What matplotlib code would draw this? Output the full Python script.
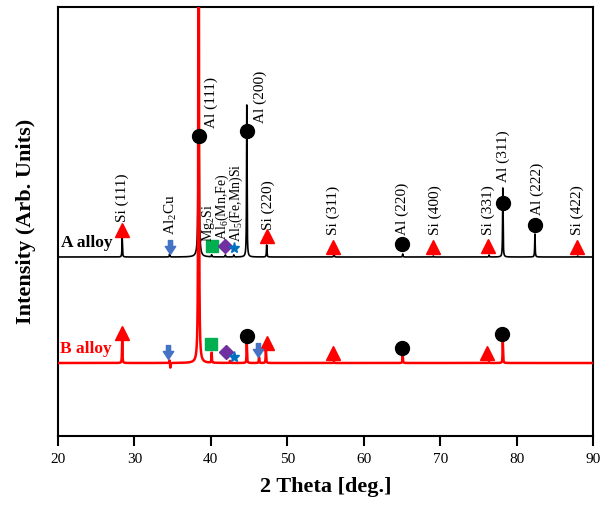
import numpy as np
import matplotlib
matplotlib.use("Agg")
from matplotlib import pyplot as plt
from matplotlib.path import Path

plt.rcParams['font.family'] = ['Liberation Serif', 'DejaVu Serif']
plt.rcParams['mathtext.fontset'] = 'custom'
plt.rcParams['mathtext.rm'] = 'Liberation Serif'

# peak positions (2 theta) and heights (arb.)
a_base = 179
a_pos = [28.4, 34.6, 38.4, 40.1, 41.9, 43.0, 44.7, 47.3, 56.1, 65.1, 69.1, 76.4, 78.2, 82.4, 88.0]
a_hgt = [19, 3, 600, 2, 2, 2, 152, 12, 4, 3, 1, 2, 69, 23, 1]

b_base = 73
b_pos = [28.4, 34.6, 34.7, 38.4, 40.1, 42.5, 44.7, 46.3, 47.2, 56.1, 65.1, 76.4, 78.2]
b_hgt = [23, 3, -5, 900, 10, 2, 20, 6, 13, 1, 8, 1, 21]

# phase markers: (x, y) per phase
a_si = [(28.4, 206), (47.4, 200), (56.0, 189), (69.1, 189), (76.3, 190), (87.9, 189)]
a_al = [(38.4, 300), (44.7, 305), (65.0, 192), (78.2, 233), (82.4, 211)]
a_cu = [(34.6, 189)]
a_mg = [(40.1, 190)]
a_mn = [(41.8, 190)]
a_fe = [(43.0, 188)]

b_si = [(28.4, 103), (47.3, 93), (56.0, 83), (76.1, 83)]
b_al = [(44.7, 100), (65.0, 88), (78.1, 102)]
b_cu = [(34.4, 84), (46.2, 86)]
b_mg = [(40.0, 92)]
b_mn = [(42.0, 84)]
b_fe = [(43.0, 79)]

# peak labels: text, x, bottom y, font size
labels = [("Si (111)", 28.4, 214, 11), ("Al$_2$Cu", 34.8, 201, 11), ("Al (111)", 40.1, 308, 11),
          ("Mg$_2$Si", 39.65, 194, 10), ("Al$_6$(Mn,Fe)", 41.5, 196, 10),
          ("Al$_5$(Fe,Mn)Si", 43.35, 194, 10),
          ("Al (200)", 46.4, 313, 11), ("Si (220)", 47.5, 206, 11), ("Si (311)", 56.0, 201, 11),
          ("Al (220)", 65.0, 201, 11), ("Si (400)", 69.3, 201, 11), ("Si (331)", 76.3, 201, 11),
          ("Al (311)", 78.3, 254, 11), ("Al (222)", 82.7, 221, 11), ("Si (422)", 87.9, 201, 11)]


def profile(x, pos, hgt, base, w=0.035):
    y = np.full_like(x, base, dtype=float)
    for p, h in zip(pos, hgt):
        y += h / (1 + ((x - p) / w) ** 2)
    return y


arrow = Path([(-0.3, 1), (0.3, 1), (0.3, 0.15), (0.75, 0.15), (0, -1), (-0.75, 0.15), (-0.3, 0.15), (-0.3, 1)],
             [Path.MOVETO] + [Path.LINETO] * 6 + [Path.CLOSEPOLY])

fig = plt.figure(figsize=(6.09, 5.07), dpi=100)
ax = fig.add_axes([58 / 609, 71 / 507, 535 / 609, 429 / 507])

tt = np.linspace(20, 90, 14001)
ax.plot(tt, profile(tt, a_pos, a_hgt, a_base), color='black', lw=1.2, zorder=2)
ax.plot(tt, profile(tt, b_pos, b_hgt, b_base), color='red', lw=1.8, zorder=3)


def marks(pts, **kw):
    xs, ys = zip(*pts)
    ax.plot(xs, ys, ls='none', zorder=5, **kw)


for si, al, cu, mg, mn, fe in [(a_si, a_al, a_cu, a_mg, a_mn, a_fe), (b_si, b_al, b_cu, b_mg, b_mn, b_fe)]:
    marks(si, marker='^', ms=10, color='red', mec='red')
    marks(al, marker='o', ms=10, color='black')
    marks(cu, marker=arrow, ms=10, color='#4472C4')
    marks(mg, marker='s', ms=9, color='#00B050')
    marks(mn, marker='D', ms=7, color='#7030A0')
    marks(fe, marker='*', ms=8, color='#0070C0')

for txt, x, y, fs in labels:
    ax.text(x, y, txt, rotation=90, ha='center', va='bottom', fontsize=fs, zorder=6)

ax.text(20.4, 193, "A alloy", fontsize=12.5, fontweight='bold', color='black', va='center')
ax.text(20.3, 87, "B alloy", fontsize=12.5, fontweight='bold', color='red', va='center')

ax.set_xlim(20, 90)
ax.set_ylim(0, 429)
ax.set_xticks(range(20, 91, 10))
ax.set_yticks([])
ax.tick_params(axis='x', direction='out', length=7, width=1.5, labelsize=11, pad=5)
for s in ax.spines.values():
    s.set_linewidth(1.5)
ax.set_xlabel("2 Theta [deg.]", fontsize=16, fontweight='bold', labelpad=8)
ax.set_ylabel("Intensity (Arb. Units)", fontsize=16, fontweight='bold', labelpad=16)

fig.savefig("out.png", dpi=100)
